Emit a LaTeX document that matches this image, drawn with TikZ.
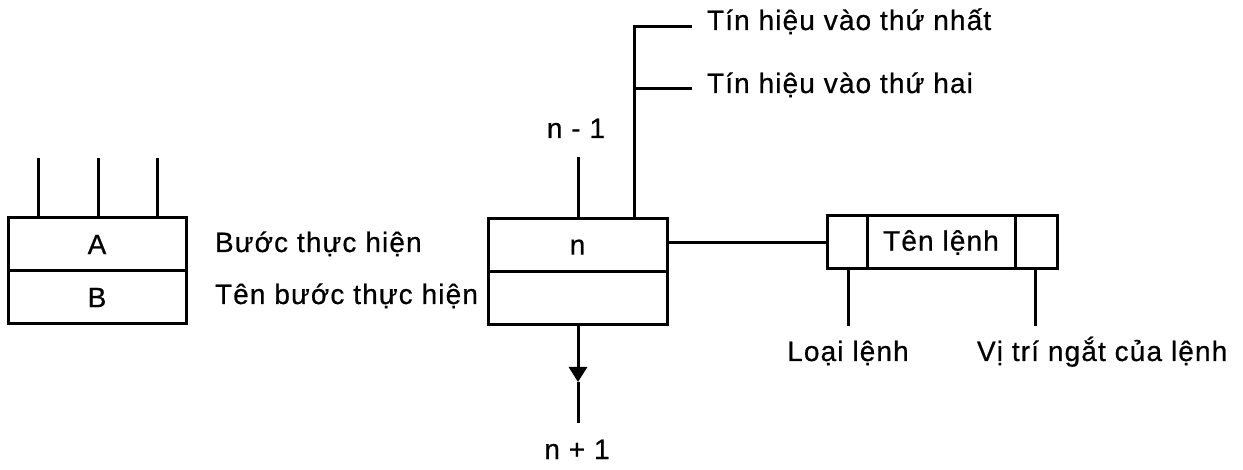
\documentclass[tikz,border=0pt]{standalone}
\usepackage{fontspec}
\setmainfont[LetterSpace=4,FakeBold=0.6]{Liberation Sans}
\usetikzlibrary{arrows.meta}
\begin{document}
\begin{tikzpicture}[x=1pt,y=-1pt,line width=3pt,
  every node/.style={outer sep=0pt},
  cell/.style={draw,rectangle,minimum width=178pt,minimum height=53pt,inner sep=0pt,font=\fontsize{28}{30}\selectfont},
  lbl/.style={inner sep=0pt,font=\fontsize{28}{30}\selectfont},
  sq/.style={draw,rectangle,minimum height=53pt,inner sep=0pt,font=\fontsize{28}{30}\selectfont}]
\useasboundingbox (0,0) rectangle (1243,470);
% left box
\node[cell] (A) at (97,244.5) {\vphantom{B}A};
\node[cell] (B) at (97,297.5) {\vphantom{A}B};
\coordinate (t1) at (38,158);
\coordinate (t2) at (98,158);
\coordinate (t3) at (157,158);
\draw (t1) -- (t1 |- A.north);
\draw (t2) -- (t2 |- A.north);
\draw (t3) -- (t3 |- A.north);
\node[lbl,anchor=base west] (lA) at (215,252) {Bước thực hiện};
\node[lbl,anchor=base west] (lB) at (215,304) {Tên bước thực hiện};
% middle box
\node[cell,minimum width=179pt] (N) at (577.5,245) {\vphantom{B}n};
\node[cell,minimum width=179pt] (N2) at (577.5,298) {};
\coordinate (nm1) at (578,157);
\draw (nm1) -- (nm1 |- N.north);
\node[lbl,anchor=base] (lnm1) at (576,138) {n - 1};
\coordinate (sig) at (634,27);
\coordinate (sig1) at (692,27);
\coordinate (sig2) at (692,89);
\draw (sig1) -- (sig) -- (sig |- N.north);
\draw (sig2) -- (sig |- sig2);
\node[lbl,anchor=base west] (s1) at (707,30) {Tín hiệu vào thứ nhất};
\node[lbl,anchor=base west] (s2) at (707,93) {Tín hiệu vào thứ hai};
\coordinate (mid) at (578,382);
\coordinate (bot) at (578,423);
\draw[-{Triangle[length=15pt,width=18pt]}] (N2.south -| mid) -- (mid);
\draw (mid) -- (bot);
\node[lbl,anchor=base] (lnp1) at (577,459) {n + 1};
% right box
\node[sq,minimum width=40pt,anchor=west] (R1) at (827,242.5) {};
\node[sq,minimum width=148pt,anchor=west] (R2) at (R1.east) {\vphantom{B}Tên lệnh};
\node[sq,minimum width=42pt,anchor=west] (R3) at (R2.east) {};
\draw (N.east |- R1.west) -- (R1.west);
\coordinate (c1) at (848,326);
\coordinate (c2) at (1035,326);
\draw (c1 |- R1.south) -- (c1);
\draw (c2 |- R3.south) -- (c2);
\node[lbl,anchor=base] (l1) at (848,361) {Loại lệnh};
\node[lbl,anchor=base west] (l2) at (977,361) {Vị trí ngắt của lệnh};
\end{tikzpicture}
\end{document}
